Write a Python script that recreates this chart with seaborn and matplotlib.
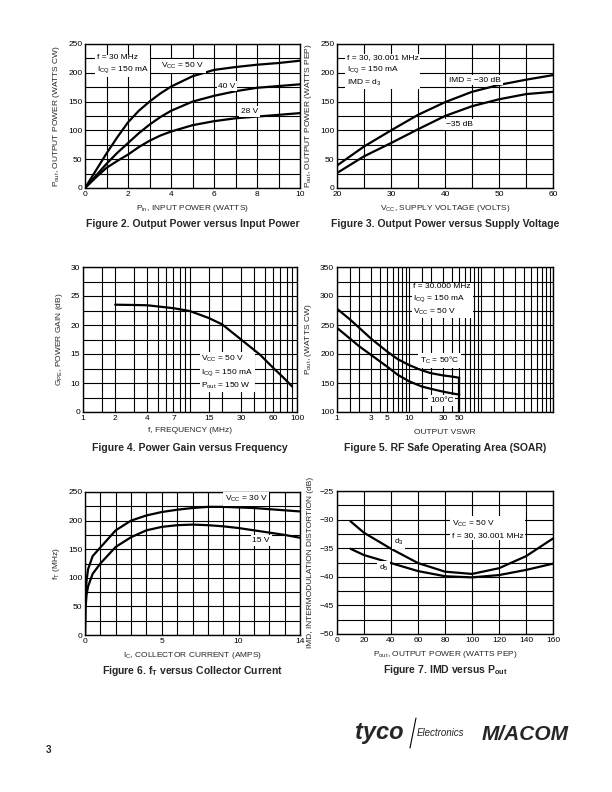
import numpy as np
import pandas as pd
import seaborn as sns
import matplotlib.pyplot as plt
from matplotlib.ticker import FixedLocator, FixedFormatter, NullFormatter

sns.set_theme(style="white")
plt.rcParams["font.family"] = ["Liberation Sans Narrow", "Liberation Sans", "DejaVu Sans"]
plt.rcParams["mathtext.default"] = "regular"
plt.rcParams["axes.edgecolor"] = "black"
plt.rcParams["axes.linewidth"] = 1.0

# Figure 2 - output power vs input power
pin = [0, 0.5, 1, 1.5, 2, 2.5, 3, 3.5, 4, 5, 6, 7, 8, 9, 10]
pout_50v = [0, 30, 60, 88, 114, 134, 150, 164, 176, 194, 205, 210, 214, 217, 221]
pout_40v = [0, 21, 42, 61, 78, 95, 110, 123, 134, 150, 160, 168, 174, 177, 180]
pout_28v = [0, 18, 35, 47, 58, 71, 82, 91, 98, 109, 116, 121, 124, 127, 130]

# Figure 3 - output power vs supply voltage
vcc = [20, 25, 30, 35, 40, 45, 50, 55, 60]
pout_imd30 = [39, 72, 100, 127, 149, 167, 179, 188, 196]
pout_imd35 = [26, 55, 78, 102, 125, 142, 154, 163, 167]

# Figure 4 - power gain vs frequency
freq = [2, 3, 4, 5, 7, 10, 15, 20, 30, 45, 60, 75, 90]
gain = [23.5, 23.45, 23.4, 23.2, 22.9, 22.4, 21.2, 20.1, 17.5, 14.9, 12.6, 10.9, 9.4]

# Figure 5 - RF SOAR
vswr = [1, 1.5, 2, 3, 5, 7, 10, 15, 20, 30, 40, 50]
soar_50c = [278, 260, 246, 226, 204, 191, 181, 172, 167, 163, 161, 159]
soar_100c = [245, 227, 214, 198, 178, 164, 153, 144, 140, 135, 132, 130]
vswr_edge = [50, 50]
soar_edge = [159, 100]

# Figure 6 - fT vs collector current
ic = [0, 0.03, 0.1, 0.2, 0.5, 1, 2, 3, 4, 5, 6, 7, 8, 9, 10, 11, 12, 13, 14]
ft_30v = [0, 65, 95, 115, 138, 153, 183, 200, 209, 215, 219, 222, 224, 224, 223, 222, 220, 218, 216]
ft_15v = [0, 45, 70, 85, 107, 125, 154, 171, 183, 189, 192, 193, 192, 190, 187, 183, 179, 175, 170]

# Figure 7 - IMD vs Pout
pout_pep = [10, 20, 40, 60, 80, 100, 120, 140, 160]
imd_d3 = [-30.3, -32.3, -35.1, -37.6, -39.1, -39.5, -38.5, -36.4, -33.3]
imd_d5 = [-35.1, -36.2, -37.6, -39.0, -39.9, -40.1, -39.7, -38.8, -37.7]

FS = 6
LW = 1.6
W, H = 612, 792
fig = plt.figure(figsize=(W / 100, H / 100), dpi=100)


def make_ax(l, r, t, b):
    return fig.add_axes([l / W, 1 - b / H, (r - l) / W, (b - t) / H])


def grid_setup(ax, xmaj, xlab, xmin, ymaj, ylab, ymin):
    ax.xaxis.set_major_locator(FixedLocator(xmaj))
    ax.xaxis.set_major_formatter(FixedFormatter(xlab))
    ax.xaxis.set_minor_locator(FixedLocator(xmin))
    ax.xaxis.set_minor_formatter(NullFormatter())
    ax.yaxis.set_major_locator(FixedLocator(ymaj))
    ax.yaxis.set_major_formatter(FixedFormatter(ylab))
    ax.yaxis.set_minor_locator(FixedLocator(ymin))
    ax.yaxis.set_minor_formatter(NullFormatter())
    ax.grid(True, which="both", color="black", lw=0.8)
    ax.set_axisbelow(True)
    ax.tick_params(which="both", length=0, labelsize=FS, pad=2, colors="black")
    for s in ax.spines.values():
        s.set_color("black")


def curve(ax, x, y):
    sns.lineplot(x=x, y=y, ax=ax, color="black", lw=LW, sort=False, estimator=None)


def label(ax, x, y, s, **kw):
    ax.text(x, y, s, fontsize=FS, color="black", zorder=4,
            bbox=dict(facecolor="white", edgecolor="none", pad=1.2), **kw)


def caption(ax, s):
    pos = ax.get_position()
    fig.text((pos.x0 + pos.x1) / 2, pos.y0 - 36 / H, s, ha="center", va="center",
             fontsize=7.5, fontweight="bold", family=["Liberation Sans", "DejaVu Sans"])


logdec = [m * 10 ** d for d in range(0, 3) for m in [1, 1.5, 2, 3, 4, 5, 6, 7, 8, 9]] + [1000]

# ---- Figure 2
ax = make_ax(85, 300, 44, 188)
curve(ax, pin, pout_50v)
curve(ax, pin, pout_40v)
curve(ax, pin, pout_28v)
ax.set_xlim(0, 10)
ax.set_ylim(0, 250)
grid_setup(ax, range(0, 11, 2), [str(v) for v in range(0, 11, 2)], np.arange(0, 11, 1),
           range(0, 251, 50), [str(v) for v in range(0, 251, 50)], np.arange(0, 251, 25))
ax.set_xlabel("P$_{in}$, INPUT POWER (WATTS)", fontsize=FS, labelpad=4)
ax.set_ylabel("P$_{out}$, OUTPUT POWER (WATTS CW)", fontsize=FS, labelpad=4)
label(ax, 0.55, 232, "f = 30 MHz\nI$_{CQ}$ = 150 mA", va="top", linespacing=1.5)
label(ax, 3.55, 212, "V$_{CC}$ = 50 V", va="center")
label(ax, 6.2, 177, "40 V", va="center")
label(ax, 7.25, 133, "28 V", va="center")
caption(ax, "Figure 2. Output Power versus Input Power")

# ---- Figure 3
ax = make_ax(337, 553, 44, 188)
curve(ax, vcc, pout_imd30)
curve(ax, vcc, pout_imd35)
ax.set_xlim(20, 60)
ax.set_ylim(0, 250)
grid_setup(ax, range(20, 61, 10), [str(v) for v in range(20, 61, 10)], np.arange(20, 61, 5),
           range(0, 251, 50), [str(v) for v in range(0, 251, 50)], np.arange(0, 251, 25))
ax.set_xlabel("V$_{CC}$, SUPPLY VOLTAGE (VOLTS)", fontsize=FS, labelpad=4)
ax.set_ylabel("P$_{out}$, OUTPUT POWER (WATTS PEP)", fontsize=FS, labelpad=4)
label(ax, 21.8, 232, "f = 30, 30.001 MHz\nI$_{CQ}$ = 150 mA\nIMD = d$_3$", va="top", linespacing=1.4)
label(ax, 40.8, 187, "IMD = \u221230 dB", va="center")
label(ax, 40.2, 110, "\u221235 dB", va="center")
caption(ax, "Figure 3. Output Power versus Supply Voltage")

# ---- Figure 4
ax = make_ax(83, 297, 267, 412)
curve(ax, freq, gain)
ax.set_xscale("log")
ax.set_xlim(1, 100)
ax.set_ylim(5, 30)
fticks = [1, 2, 4, 7, 15, 30, 60, 100]
grid_setup(ax, fticks, [str(v) for v in fticks], [v for v in logdec if v <= 100],
           [5, 10, 15, 20, 25, 30], ["0", "10", "15", "20", "25", "30"], np.arange(5, 30.1, 2.5))
ax.set_xlabel("f, FREQUENCY (MHz)", fontsize=FS, labelpad=4)
ax.set_ylabel("G$_{PE}$, POWER GAIN (dB)", fontsize=FS, labelpad=4)
label(ax, 12.8, 15.0, "V$_{CC}$ = 50 V\nI$_{CQ}$ = 150 mA\nP$_{out}$ = 150 W", va="top", linespacing=1.4)
caption(ax, "Figure 4. Power Gain versus Frequency")

# ---- Figure 5
ax = make_ax(337, 553, 267, 412)
curve(ax, vswr, soar_50c)
curve(ax, vswr, soar_100c)
curve(ax, vswr_edge, soar_edge)
ax.set_xscale("log")
ax.set_xlim(1, 1000)
ax.set_ylim(100, 350)
vticks = [1, 3, 5, 10, 30, 50]
grid_setup(ax, vticks, [str(v) for v in vticks], logdec,
           range(100, 351, 50), [str(v) for v in range(100, 351, 50)], np.arange(100, 351, 25))
ax.set_xlabel("OUTPUT VSWR", fontsize=FS, labelpad=5)
ax.set_ylabel("P$_{out}$, (WATTS CW)", fontsize=FS, labelpad=4)
label(ax, 11.5, 322, "f = 30.000 MHz\nI$_{CQ}$ = 150 mA\nV$_{CC}$ = 50 V", va="top", linespacing=1.4)
label(ax, 14, 189, "T$_C$ = 50\u00b0C", va="center")
label(ax, 19.5, 120, "100\u00b0C", va="center")
caption(ax, "Figure 5. RF Safe Operating Area (SOAR)")

# ---- Figure 6
ax = make_ax(85, 300, 492, 635)
curve(ax, ic, ft_30v)
curve(ax, ic, ft_15v)
ax.set_xlim(0, 14)
ax.set_ylim(0, 250)
grid_setup(ax, [0, 5, 10, 14], ["0", "5", "10", "14"], np.arange(0, 15, 1),
           range(0, 251, 50), [str(v) for v in range(0, 251, 50)], np.arange(0, 251, 25))
ax.set_xlabel("I$_C$, COLLECTOR CURRENT (AMPS)", fontsize=FS, labelpad=4)
ax.set_ylabel("f$_T$ (MHz)", fontsize=FS, labelpad=4)
label(ax, 9.1, 238, "V$_{CC}$ = 30 V", va="center")
label(ax, 10.9, 165, "15 V", va="center")
caption(ax, "Figure 6. f$_T$ versus Collector Current")

# ---- Figure 7
ax = make_ax(337, 553, 491, 634)
curve(ax, pout_pep, imd_d3)
curve(ax, pout_pep, imd_d5)
ax.set_xlim(0, 160)
ax.set_ylim(-50, -25)
grid_setup(ax, range(0, 161, 20), [str(v) for v in range(0, 161, 20)], np.arange(0, 161, 20),
           range(-50, -24, 5), ["\u221250", "\u221245", "\u221240", "\u221235", "\u221230", "\u221225"],
           np.arange(-50, -24.9, 2.5))
ax.set_xlabel("P$_{out}$, OUTPUT POWER (WATTS PEP)", fontsize=FS, labelpad=4)
ax.set_ylabel("IMD, INTERMODULATION DISTORTION (dB)", fontsize=FS, labelpad=4)
label(ax, 85, -29.9, "V$_{CC}$ = 50 V\nf = 30, 30.001 MHz", va="top", linespacing=1.5)
label(ax, 42, -33.9, "d$_3$", va="center")
label(ax, 31, -38.5, "d$_5$", va="center")
caption(ax, "Figure 7. IMD versus P$_{out}$")

# footer
fig.text(46 / W, 1 - 750 / H, "3", fontsize=7, fontweight="bold", va="center",
         family=["Liberation Sans", "DejaVu Sans"])
fig.text(355 / W, 1 - 733 / H, "tyco", fontsize=17, fontweight="bold", style="italic",
         va="center", family=["Liberation Sans", "DejaVu Sans"])
fig.add_artist(plt.Line2D([410 / W, 416 / W], [1 - 748 / H, 1 - 718 / H], color="black", lw=0.8))
fig.text(417 / W, 1 - 733 / H, "Electronics", fontsize=7, style="italic",
         va="center", family=["Liberation Sans", "DejaVu Sans"])
fig.text(482 / W, 1 - 735 / H, "M/ACOM", fontsize=15, fontweight="heavy", style="italic",
         va="center", family=["Liberation Sans", "DejaVu Sans"])

fig.savefig("out.png", dpi=100, facecolor="white")
